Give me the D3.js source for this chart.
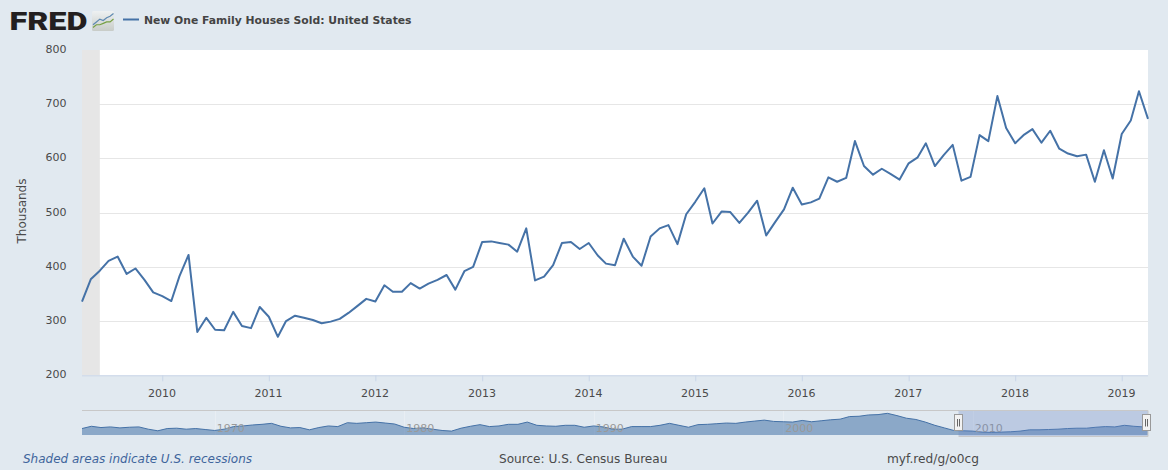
<!DOCTYPE html>
<html>
<head>
<meta charset="utf-8">
<script src="https://cdn.jsdelivr.net/npm/d3@7/dist/d3.min.js"></script>
<style>
html,body{margin:0;padding:0;background:#e1e9f0;}
svg{display:block;font-family:"DejaVu Sans",sans-serif;}
</style>
</head>
<body>
<svg id="c" width="1168" height="470"></svg>
<script>
const titleText = "New One Family Houses Sold: United States";
const yAxisTitle = "Thousands";
const footerNote = "Shaded areas indicate U.S. recessions";
const footerSource = "Source: U.S. Census Bureau";
const footerLink = "myf.red/g/o0cg";

const yTicks = [200,300,400,500,600,700,800];
const xTickYears = [2010,2011,2012,2013,2014,2015,2016,2017,2018,2019];
const navTickYears = [1970,1980,1990,2000,2010];

// Monthly sales, Apr 2009 - Apr 2019
const sales = [
336,377,393,411,419,387,397,376,353,346,337,383,
422,280,306,284,283,317,291,287,326,308,271,300,
310,306,302,296,299,304,315,328,341,336,366,354,
354,370,360,369,376,385,358,392,400,446,447,444,
441,428,471,375,382,403,444,446,433,444,421,406,
403,452,419,402,456,471,477,442,497,520,545,480,
502,501,481,500,522,458,482,506,546,515,519,526,
565,557,564,632,586,570,581,571,561,591,602,628,
586,606,625,559,566,643,632,715,656,628,644,654,
629,651,618,609,604,607,557,615,563,645,670,724,
673];

// Navigator series, one reading each half-year from Jan 1963, last one Apr 2019
const navSales = [
474,604,530,567,511,548,567,437,344,474,493,437,474,418,362,437,
586,623,679,716,772,604,511,530,400,530,623,586,809,772,809,846,
790,734,548,474,511,437,362,325,493,604,697,586,623,716,716,846,
660,623,604,660,660,548,623,567,437,437,586,586,586,660,772,660,
548,697,716,753,790,772,846,902,958,883,865,846,939,865,920,976,
1013,1162,1180,1255,1274,1348,1218,1069,995,846,660,511,362,344,325,269,
251,269,288,325,400,400,418,437,474,493,493,548,586,567,660,604,
567,567];

const startMain = new Date(Date.UTC(2009,3,1));
const endMain = new Date(Date.UTC(2019,3,1));
const startNav = new Date(Date.UTC(1963,0,1));
const recessionStart = new Date(Date.UTC(2009,3,1));
const recessionEnd = new Date(Date.UTC(2009,5,1));

const logoIconBlue = [1,3,2,5,3,7,4,6,5,8,6,9,7,11];
const logoIconGreen = [1,1,2,3,3,3,4,4,5,5,6,5,7,7];

const svg = d3.select("#c");
const M = {l:82,r:1148,t:50,b:375.3};
const x = d3.scaleUtc().domain([startMain,endMain]).range([M.l,M.r]);
const y = d3.scaleLinear().domain([200,800]).range([M.b,M.t]);
const textCol = "#4a4a4a";

// Plot area
svg.append("rect").attr("x",M.l+0).attr("y",M.t).attr("width",M.r-M.l).attr("height",M.b-M.t).attr("fill","#fff");

// Grid
svg.append("g").selectAll("line").data(yTicks.filter(d=>d>200&&d<800)).join("line")
  .attr("x1",M.l).attr("x2",M.r)
  .attr("y1",d=>Math.round(y(d))+.5).attr("y2",d=>Math.round(y(d))+.5)
  .attr("stroke","#e6e6e6");

// Recession band
svg.append("rect").attr("x",x(recessionStart)).attr("y",M.t)
  .attr("width",x(recessionEnd)-x(recessionStart)).attr("height",M.b-M.t).attr("fill","#e6e6e6");

// Y labels
svg.append("g").selectAll("text").data(yTicks).join("text")
  .attr("x",66.5).attr("y",d=>y(d)+3).attr("text-anchor","end")
  .attr("font-size",11).attr("fill",textCol).text(d=>d);
svg.append("text").attr("transform","translate(26,211) rotate(-90)")
  .attr("text-anchor","middle").attr("font-size",12).attr("fill",textCol).text(yAxisTitle);

// X axis
const xAxis = d3.axisBottom(x)
  .tickValues(xTickYears.map(v=>new Date(Date.UTC(v,0,1))))
  .tickFormat(d3.utcFormat("%Y")).tickSize(6).tickPadding(8);
const gx = svg.append("g").attr("transform",`translate(0,${M.b})`).call(xAxis);
gx.select(".domain").attr("stroke","#c9d6e8").attr("d",`M${M.l},0.5H${M.r}`);
gx.selectAll(".tick line").attr("stroke","#c9d6e8");
gx.selectAll("text").attr("font-family","DejaVu Sans").attr("font-size",11).attr("fill",textCol).attr("dx",-0.8);

// Main line
const dates = sales.map((_,i)=>d3.utcMonth.offset(startMain,i));
svg.append("path").datum(sales)
  .attr("d",d3.line().x((d,i)=>x(dates[i])).y(d=>y(d)))
  .attr("fill","none").attr("stroke","#4572a7").attr("stroke-width",2).attr("stroke-linejoin","round");

// Navigator
const navDates = navSales.map((_,i)=> i<navSales.length-1 ? d3.utcMonth.offset(startNav,i*6) : endMain);
const nx = d3.scaleUtc().domain([startNav,endMain]).range([M.l,M.r]);
const ny = d3.scaleLinear().domain([102,1540]).range([435,410]);
const nav = svg.append("g");
nav.append("line").attr("x1",M.l).attr("x2",M.r).attr("y1",410.5).attr("y2",410.5).attr("stroke","#c8c8c8");
nav.selectAll(".nt").data(navTickYears).join("line").attr("class","nt")
  .attr("x1",d=>Math.round(nx(new Date(Date.UTC(d,0,1))))+.5)
  .attr("x2",d=>Math.round(nx(new Date(Date.UTC(d,0,1))))+.5)
  .attr("y1",411).attr("y2",435).attr("stroke","#e9eef3");
nav.append("path").datum(navSales)
  .attr("d",d3.area().x((d,i)=>nx(navDates[i])).y0(435).y1(d=>ny(d)))
  .attr("fill","#4572a7").attr("fill-opacity",.55);
nav.append("path").datum(navSales)
  .attr("d",d3.line().x((d,i)=>nx(navDates[i])).y(d=>ny(d)))
  .attr("fill","none").attr("stroke","#4572a7").attr("stroke-width",1);
nav.selectAll(".nl").data(navTickYears).join("text").attr("class","nl")
  .attr("x",d=>nx(new Date(Date.UTC(d,0,1)))+2).attr("y",432)
  .attr("font-size",11).attr("fill","#999").text(d=>d);

const sx0 = nx(startMain), sx1 = nx(endMain);
nav.append("rect").attr("x",sx0).attr("y",410).attr("width",sx1-sx0).attr("height",26)
  .attr("fill","#6685c2").attr("fill-opacity",.3);
nav.append("path").attr("d",`M${sx0},436.5H${sx1}V410.5H${sx0}`).attr("fill","none").attr("stroke","#c8c8c8");
[sx0,sx1-1].forEach(hx=>{
  const h = nav.append("g").attr("transform",`translate(${Math.round(hx)},423)`);
  h.append("rect").attr("x",-4.5).attr("y",-8.5).attr("width",8).attr("height",16)
    .attr("fill","#f2f2f2").attr("stroke","#999");
  h.append("path").attr("d","M-1.5,-4V3.5M0.5,-4V3.5").attr("stroke","#666").attr("fill","none");
});

// Footer
svg.append("text").attr("x",23).attr("y",463).attr("font-size",12).attr("font-style","italic")
  .attr("fill","#3f659c").text(footerNote);
svg.append("text").attr("x",499).attr("y",463).attr("font-size",12.1).attr("fill",textCol).text(footerSource);
svg.append("text").attr("x",887).attr("y",463).attr("font-size",12.2).attr("fill",textCol).text(footerLink);

// Legend
svg.append("line").attr("x1",123).attr("x2",139).attr("y1",19.5).attr("y2",19.5)
  .attr("stroke","#4572a7").attr("stroke-width",2);
svg.append("text").attr("x",144).attr("y",23.5).attr("font-size",10.8).attr("font-weight","bold")
  .attr("fill","#444").text(titleText);

// Logo
svg.append("text").attr("x",9.5).attr("y",30).attr("font-family","Roboto, 'Liberation Sans'")
  .attr("font-size",26.5).attr("font-weight",900).attr("fill","#231f20")
  .attr("textLength",78).attr("lengthAdjust","spacingAndGlyphs").text("FRED");
const defs = svg.append("defs");
const lg = defs.append("linearGradient").attr("id","ig").attr("x1",0).attr("x2",0).attr("y1",0).attr("y2",1);
lg.append("stop").attr("offset","0").attr("stop-color","#eef1f2");
lg.append("stop").attr("offset","1").attr("stop-color","#c8ccc8");
svg.append("rect").attr("x",92).attr("y",11).attr("width",22).attr("height",20).attr("rx",1.5).attr("fill","url(#ig)");
const ix = d3.scaleLinear().domain([1,7]).range([93,113.5]);
const iy = d3.scaleLinear().domain([0,12]).range([29,12]);
const pairs = a => d3.range(0,a.length,2).map(i=>[a[i],a[i+1]]);
const il = d3.line().x(d=>ix(d[0])).y(d=>iy(d[1]));
svg.append("path").attr("d",il(pairs(logoIconBlue))).attr("fill","none").attr("stroke","#5f8ab2").attr("stroke-width",1.2);
svg.append("path").attr("d",il(pairs(logoIconGreen))).attr("fill","none").attr("stroke","#76a043").attr("stroke-width",1.2);
</script>
</body>
</html>
